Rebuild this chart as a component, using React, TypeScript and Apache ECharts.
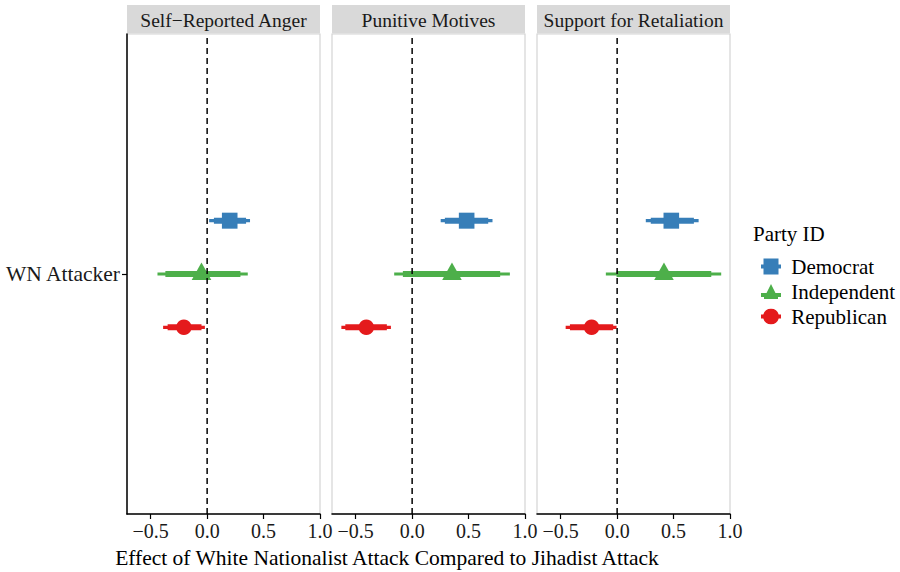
import React, { useEffect, useRef } from "react";
import * as echarts from "echarts";

const categories = ["WN Attacker"];
const panels = ["Self−Reported Anger", "Punitive Motives", "Support for Retaliation"];
const parties = ["Democrat", "Independent", "Republican"];
const xTicks = [-0.5, 0, 0.5, 1.0];
// per panel: [estimate, lo95, hi95, lo90, hi90]
const democrat = [
  [0.2, 0.018, 0.38, 0.06, 0.345],
  [0.483, 0.253, 0.712, 0.29, 0.674],
  [0.48, 0.254, 0.722, 0.298, 0.68],
];
const independent = [
  [-0.05, -0.44, 0.36, -0.37, 0.295],
  [0.353, -0.159, 0.866, -0.082, 0.78],
  [0.415, -0.1, 0.922, -0.005, 0.834],
];
const republican = [
  [-0.206, -0.39, -0.02, -0.35, -0.05],
  [-0.406, -0.627, -0.188, -0.592, -0.224],
  [-0.226, -0.456, -0.005, -0.418, -0.035],
];

const partyData = [democrat, independent, republican];
const colors = ["#377EB8", "#4DAF4A", "#E41A1C"];
const dodge = [0.1333, 0, -0.1333];
const shapes = ["square", "triangle", "circle"];
const FONT = "'Liberation Serif', 'Times New Roman', serif";

const gridLefts = [127, 332, 537];
const gridW = 193;
const gridTop = 34;
const gridH = 480;

function fmt(v: number) {
  return v.toFixed(1).replace("-", "\u2212");
}

export default function App() {
  const ref = useRef<HTMLDivElement>(null);
  useEffect(() => {
    if (!ref.current) return;
    const chart = echarts.init(ref.current, null, { renderer: "svg" });

    const grids = gridLefts.map((l) => ({
      left: l,
      top: gridTop,
      width: gridW,
      height: gridH,
      show: true,
      borderColor: "#d4d4d4",
      borderWidth: 1.2,
      backgroundColor: "#fff",
    }));

    const xAxes = panels.map((_, i) => ({
      type: "value",
      gridIndex: i,
      min: -0.71,
      max: 1.0,
      splitLine: { show: false },
      axisLine: { show: true, onZero: false, lineStyle: { color: "#000", width: 1.5 } },
      axisTick: { show: true, customValues: xTicks, length: 5, lineStyle: { color: "#000", width: 1.2 } },
      axisLabel: {
        customValues: xTicks,
        formatter: (v: number) => fmt(v),
        fontFamily: FONT,
        fontSize: 20,
        color: "#1a1a1a",
        margin: 7,
      },
    }));

    const yAxes = panels.map((_, i) => ({
      type: "value",
      gridIndex: i,
      min: 0.4,
      max: 1.6,
      splitLine: { show: false },
      axisLine: { show: i === 0, onZero: false, lineStyle: { color: "#000", width: 1.5 } },
      axisTick: { show: i === 0, customValues: [1], length: 5, lineStyle: { color: "#000", width: 1.2 } },
      axisLabel: {
        show: i === 0,
        customValues: [1],
        formatter: () => categories[0],
        fontFamily: FONT,
        fontSize: 21.5,
        color: "#1a1a1a",
        margin: 7,
      },
    }));

    const series: any[] = [];
    parties.forEach((party, p) => {
      panels.forEach((_, i) => {
        const d = partyData[p][i];
        series.push({
          type: "custom",
          name: party,
          xAxisIndex: i,
          yAxisIndex: i,
          color: colors[p],
          z: 3,
          data: [[d[0], d[1], d[2], d[3], d[4], 1 + dodge[p]]],
          renderItem: (params: any, api: any) => {
            const est = api.value(0);
            const y = api.value(5);
            const a = api.coord([api.value(1), y]);
            const b = api.coord([api.value(2), y]);
            const c = api.coord([api.value(3), y]);
            const e = api.coord([api.value(4), y]);
            const pt = api.coord([est, y]);
            const col = colors[p];
            const children: any[] = [
              { type: "line", shape: { x1: a[0], y1: a[1], x2: b[0], y2: b[1] }, style: { stroke: col, lineWidth: 3.2 } },
              { type: "line", shape: { x1: c[0], y1: c[1], x2: e[0], y2: e[1] }, style: { stroke: col, lineWidth: 6 } },
            ];
            if (shapes[p] === "square") {
              children.push({ type: "rect", shape: { x: pt[0] - 7.8, y: pt[1] - 8, width: 15.6, height: 16 }, style: { fill: col } });
            } else if (shapes[p] === "triangle") {
              children.push({
                type: "polygon",
                shape: { points: [[pt[0], pt[1] - 11.5], [pt[0] - 9.8, pt[1] + 6], [pt[0] + 9.8, pt[1] + 6]] },
                style: { fill: col },
              });
            } else {
              children.push({ type: "circle", shape: { cx: pt[0], cy: pt[1], r: 7.8 }, style: { fill: col } });
            }
            return { type: "group", children };
          },
        });
      });
    });

    panels.forEach((_, i) => {
      series.push({
        type: "line",
        name: "zero" + i,
        xAxisIndex: i,
        yAxisIndex: i,
        data: [[0, 0.4], [0, 1.6]],
        symbol: "none",
        silent: true,
        z: 5,
        lineStyle: { color: "#000", width: 1.5, type: [6, 4] },
      });
    });

    const graphics: any[] = [];
    panels.forEach((name, i) => {
      graphics.push({
        type: "rect",
        shape: { x: gridLefts[i], y: 5, width: gridW, height: 28.5 },
        style: { fill: "#d9d9d9" },
        silent: true,
      });
      graphics.push({
        type: "text",
        x: gridLefts[i] + gridW / 2,
        y: 20,
        style: {
          text: name,
          fontFamily: FONT,
          fontSize: 19.5,
          fill: "#1a1a1a",
          align: "center",
          verticalAlign: "middle",
        },
        silent: true,
      });
    });
    graphics.push({
      type: "text",
      x: 387,
      y: 558,
      style: {
        text: "Effect of White Nationalist Attack Compared to Jihadist Attack",
        fontFamily: FONT,
        fontSize: 21.5,
        fill: "#000",
        align: "center",
        verticalAlign: "middle",
      },
    });
    graphics.push({
      type: "text",
      x: 753,
      y: 234,
      style: {
        text: "Party ID",
        fontFamily: FONT,
        fontSize: 21,
        fill: "#000",
        align: "left",
        verticalAlign: "middle",
      },
    });

    const icons = [
      "path://M0,6H2.5V0H17.5V6H20V10H17.5V16H2.5V10H0Z",
      "path://M0,10H5.5L10,1L14.5,10H20V14H17V16H3V14H0Z",
      "path://M0,6H2.3A8,8 0 0 1 17.7,6H20V10H17.7A8,8 0 0 1 2.3,10H0Z",
    ];

    chart.setOption({
      animation: false,
      backgroundColor: "#fff",
      textStyle: { fontFamily: FONT },
      grid: grids,
      xAxis: xAxes,
      yAxis: yAxes,
      legend: {
        orient: "vertical",
        left: 756,
        top: 251,
        itemWidth: 20,
        itemHeight: 16,
        itemGap: 4,
        selectedMode: false,
        data: parties.map((p, k) => ({
          name: p,
          icon: icons[k],
          itemStyle: { color: colors[k] },
          textStyle: { fontFamily: FONT, fontSize: 21, color: "#000" },
        })),
        textStyle: { fontFamily: FONT, fontSize: 21, color: "#000" },
        formatter: (n: string) => " " + n,
      },
      graphic: graphics,
      series,
    });
    return () => chart.dispose();
  }, []);
  return <div ref={ref} style={{ width: 900, height: 572, position: "absolute", left: 0, top: 0 }} />;
}
